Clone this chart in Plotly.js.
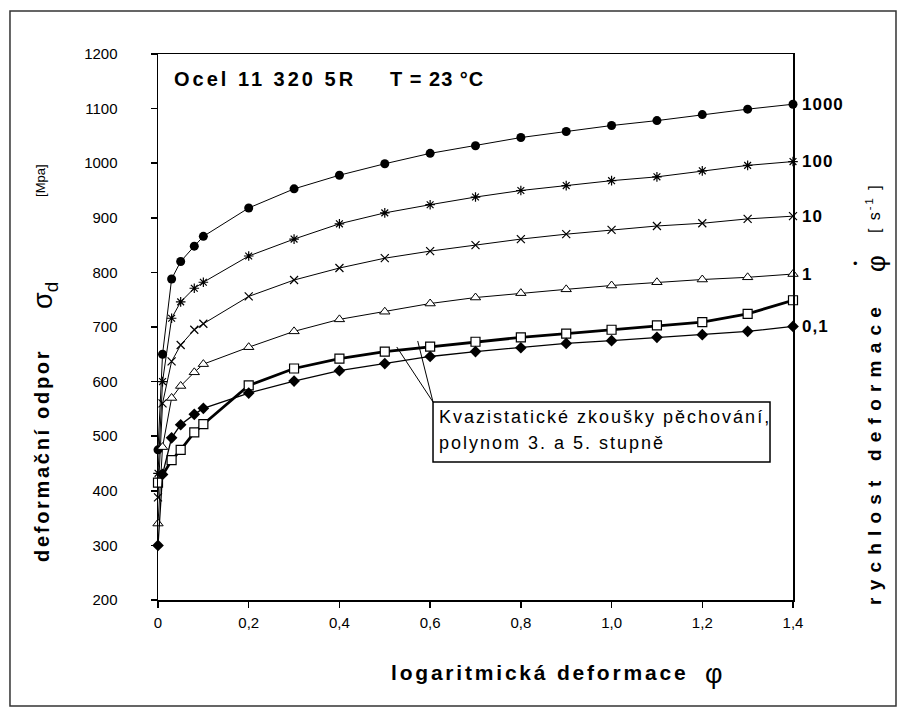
<!DOCTYPE html>
<html>
<head>
<meta charset="utf-8">
<script src="https://cdn.plot.ly/plotly-3.0.1.min.js"></script>
<style>
html,body{margin:0;padding:0;background:#fff;}
#chart{width:907px;height:717px;}
/* letter spacing keyed on a dummy trailing font-family name, so Plotly measures it too */
text[style*="zspA"]{letter-spacing:2.8px;}
text[style*="zspB"]{letter-spacing:7.2px;}
text[style*="zspC"]{letter-spacing:2.7px;}
text[style*="zspD"]{letter-spacing:3px;}
text[style*="zspE"]{letter-spacing:1px;}
text[style*="zspF"]{letter-spacing:2px;}
text[style*="zspG"]{letter-spacing:1px;}
text[style*="zspH"]{letter-spacing:2px;}
</style>
</head>
<body>
<div id="chart"></div>
<script>
// ---- data ----
const strainX = [0, 0.01, 0.03, 0.05, 0.08, 0.1, 0.2, 0.3, 0.4, 0.5, 0.6, 0.7, 0.8, 0.9, 1.0, 1.1, 1.2, 1.3, 1.4];
const rate1000 = [475, 650, 788, 820, 848, 866, 918, 953, 978, 999, 1018, 1032, 1047, 1058, 1069, 1078, 1089, 1099, 1108];
const rate100  = [432, 600, 716, 746, 771, 782, 830, 861, 889, 909, 924, 938, 950, 959, 968, 975, 986, 996, 1003];
const rate10   = [388, 560, 637, 667, 695, 706, 756, 786, 808, 826, 839, 850, 861, 870, 878, 885, 890, 898, 903];
const rate1    = [340, 480, 570, 592, 617, 632, 663, 692, 714, 728, 743, 754, 762, 769, 776, 782, 787, 791, 797];
const rate01   = [300, 430, 497, 521, 540, 551, 579, 601, 620, 633, 646, 655, 662, 670, 675, 681, 686, 692, 701];
const quasiX   = [0, 0.03, 0.05, 0.08, 0.1, 0.2, 0.3, 0.4, 0.5, 0.6, 0.7, 0.8, 0.9, 1.0, 1.1, 1.2, 1.3, 1.4];
const quasiY   = [415, 456, 475, 507, 522, 593, 624, 642, 655, 664, 673, 681, 688, 695, 703, 709, 724, 749];
const rateLabels = ["1000", "100", "10", "1", "0,1"];
const xTickVals = [0, 0.2, 0.4, 0.6, 0.8, 1.0, 1.2, 1.4];
const xTickText = ["0", "0,2", "0,4", "0,6", "0,8", "1,0", "1,2", "1,4"];
const yTickVals = [200, 300, 400, 500, 600, 700, 800, 900, 1000, 1100, 1200];

const FONT = "Liberation Sans, Arial, sans-serif";
function f(size, bold, sp) {
  const o = {family: FONT + (sp ? ", " + sp : ""), size: size, color: "#000"};
  if (bold) o.weight = "bold";
  return o;
}
const line = {color: "#000", width: 1};

const traces = [
  {x: strainX, y: rate1000, mode: "lines+markers", line: line,
   marker: {symbol: "circle", size: 9, color: "#000"}},
  {x: strainX, y: rate100, mode: "lines+markers", line: line,
   marker: {symbol: "asterisk-open", size: 8, color: "#000", line: {color: "#000", width: 1.2}}},
  {x: strainX, y: rate10, mode: "lines+markers", line: line,
   marker: {symbol: "x-thin-open", size: 8, color: "#000", line: {color: "#000", width: 1.2}}},
  {x: strainX, y: rate1, mode: "lines+markers", line: line,
   marker: {symbol: "triangle-up", size: 9, color: "#fff", line: {color: "#000", width: 1}}},
  {x: quasiX, y: quasiY, mode: "lines+markers", line: {color: "#000", width: 2.8},
   marker: {symbol: "square", size: 9, color: "#fff", line: {color: "#000", width: 1.2}}},
  {x: strainX, y: rate01, mode: "lines+markers", line: {color: "#000", width: 1.3},
   marker: {symbol: "diamond", size: 9, color: "#000"}}
];
traces.forEach(t => { t.type = "scatter"; t.cliponaxis = false; t.showlegend = false; t.hoverinfo = "skip"; });

const endSeries = [rate1000, rate100, rate10, rate1, rate01];
const annotations = [];
endSeries.forEach((s, i) => {
  annotations.push({x: strainX[strainX.length - 1], y: s[s.length - 1], xref: "x", yref: "y",
    text: rateLabels[i], showarrow: false, xanchor: "left", yanchor: "middle", xshift: 7,
    font: f(17, true, "zspG")});
});
function ann(x, y, text, font, opts) {
  annotations.push(Object.assign({x: x, y: y, xref: "paper", yref: "paper", text: text, showarrow: false,
    xanchor: "center", yanchor: "middle", font: font}, opts || {}));
}
// paper x = (px-158)/635, paper y = (600-py)/546
ann(0.022, 0.9542, "Ocel 11 320 5R", f(20, true, "zspD"), {xanchor: "left", align: "left"});
ann(0.362, 0.9542, "T = 23 °C", f(20, true, "zspE"), {xanchor: "left", align: "left"});
ann(0.6, -0.1319, "logaritmická deformace", f(21, true, "zspA"));
ann(0.8756, -0.1355, "φ", f(27, false));
ann(-0.1827, 0.2656, "deformační odpor", f(20, true, "zspC"), {textangle: -90});
ann(-0.178, 0.5586, "σ<sub>d</sub>", f(27, false), {textangle: -90});
ann(-0.186, 0.7692, "[Mpa]", f(13, false), {textangle: -90});
ann(1.1291, 0.2711, "rychlost deformace", f(19, true, "zspB"), {textangle: -90});
ann(1.1307, 0.6172, "φ", f(26, false), {textangle: -90});
ann(1.0992, 0.6172, "•", f(13, false));
ann(1.126, 0.7179, "[ s<sup>-1</sup> ]", f(16, false, "zspH"), {textangle: -90});
ann(0.4394, 0.3352, "Kvazistatické zkoušky pěchování,", f(18, false, "zspF"), {xanchor: "left", align: "left"});
ann(0.4394, 0.2875, "polynom 3. a 5. stupně", f(18, false, "zspF"), {xanchor: "left", align: "left"});

const shapes = [
  {type: "rect", xref: "paper", yref: "paper", x0: -0.2331, x1: 1.1622, y0: -0.1941, y1: 1.0788,
   line: {color: "#333", width: 1.5}, layer: "below"},
  {type: "rect", xref: "paper", yref: "paper", x0: 0.4331, x1: 0.9638, y0: 0.2527, y1: 0.3626,
   line: {color: "#000", width: 1.5}, fillcolor: "#fff"},
  {type: "line", xref: "paper", yref: "paper", x0: 0.4331, y0: 0.3626, x1: 0.376, y1: 0.4634, line: {color: "#000", width: 1}},
  {type: "line", xref: "paper", yref: "paper", x0: 0.4331, y0: 0.3626, x1: 0.409, y1: 0.4744, line: {color: "#000", width: 1}}
];

const axisCommon = {showgrid: false, zeroline: false, showline: true, linecolor: "#000", linewidth: 1.5,
  mirror: true, ticks: "outside", ticklen: 6, tickwidth: 1.5, tickcolor: "#000",
  tickfont: {family: FONT, size: 15, color: "#000"}};

const layout = {
  width: 907, height: 717,
  margin: {l: 158, r: 114, t: 54, b: 117},
  paper_bgcolor: "#fff", plot_bgcolor: "#fff",
  showlegend: false,
  xaxis: Object.assign({}, axisCommon, {range: [0, 1.4], tickvals: xTickVals, ticktext: xTickText, ticklabelstandoff: 2}),
  yaxis: Object.assign({}, axisCommon, {range: [200, 1200], tickvals: yTickVals, ticklabelstandoff: 30}),
  annotations: annotations,
  shapes: shapes
};

Plotly.newPlot("chart", traces, layout, {staticPlot: true});
</script>
</body>
</html>
